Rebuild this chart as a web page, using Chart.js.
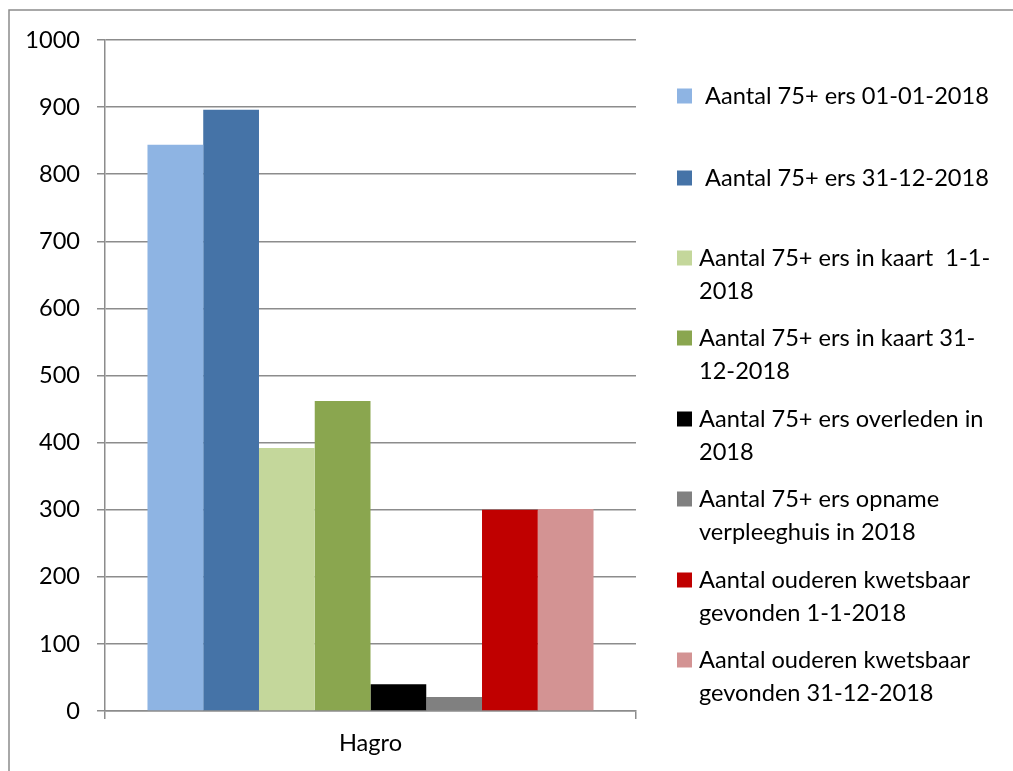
<!DOCTYPE html>
<html>
<head>
<meta charset="utf-8">
<title>Hagro – 75+ ers 2018</title>
<script src="https://cdn.jsdelivr.net/npm/chart.js@4/dist/chart.umd.min.js"></script>
<style>
  html, body { margin: 0; padding: 0; background: #ffffff; }
  #wrap { width: 1013px; height: 771px; }
</style>
</head>
<body>
<div id="wrap"><canvas id="chart" width="1013" height="771"></canvas></div>
<script>
// Category on the x axis
const categories = ['Hagro'];

// Series names (line breaks as shown in the legend)
const seriesLabels = [
  ' Aantal 75+ ers 01-01-2018',
  ' Aantal 75+ ers 31-12-2018',
  'Aantal 75+ ers in kaart  1-1-\n2018',
  'Aantal 75+ ers in kaart 31-\n12-2018',
  'Aantal 75+ ers overleden in\n2018',
  'Aantal 75+ ers opname\nverpleeghuis in 2018',
  'Aantal ouderen kwetsbaar\ngevonden 1-1-2018',
  'Aantal ouderen kwetsbaar\ngevonden 31-12-2018'
];

// One value per series for Hagro
const seriesValues = [844, 896, 392, 462, 40, 21, 300, 301];

// Fill colour of each series
const seriesColors = [
  '#8EB4E3', '#4573A7', '#C4D79B', '#8AA64F',
  '#000000', '#808080', '#C00000', '#D39393'
];

// Value axis ticks
const yTicks = [0, 100, 200, 300, 400, 500, 600, 700, 800, 900, 1000];

const FONT = 'Lato, "Open Sans", sans-serif';
const LINE = '#8c8c8c';

// Frame around the chart (top and left edges fall inside the page)
const framePlugin = {
  id: 'frame',
  beforeDraw(chart) {
    const ctx = chart.ctx;
    ctx.save();
    ctx.fillStyle = '#ffffff';
    ctx.fillRect(0, 0, chart.width, chart.height);
    ctx.strokeStyle = LINE;
    ctx.lineWidth = 1.5;
    ctx.beginPath();
    ctx.moveTo(9, chart.height + 5);
    ctx.lineTo(9, 10);
    ctx.lineTo(chart.width + 5, 10);
    ctx.stroke();
    ctx.restore();
  }
};

// Legend drawn to the right of the plot, one swatch per series
const sideLegend = {
  id: 'sideLegend',
  afterDraw(chart, args, opts) {
    const ctx = chart.ctx;
    ctx.save();
    ctx.font = opts.fontSize + 'px ' + FONT;
    ctx.textBaseline = 'middle';
    ctx.textAlign = 'left';
    chart.data.datasets.forEach((ds, i) => {
      const y = opts.rowY[i];
      ctx.fillStyle = ds.backgroundColor;
      ctx.fillRect(opts.boxX, y - opts.boxSize / 2, opts.boxSize, opts.boxSize);
      ctx.fillStyle = '#000000';
      String(ds.label).split('\n').forEach((line, k) => {
        ctx.fillText(line, opts.textX, y + k * opts.lineHeight);
      });
    });
    ctx.restore();
  }
};

new Chart(document.getElementById('chart'), {
  type: 'bar',
  data: {
    labels: categories,
    datasets: seriesValues.map((v, i) => ({
      label: seriesLabels[i],
      data: [v],
      backgroundColor: seriesColors[i],
      borderWidth: 0
    }))
  },
  options: {
    responsive: false,
    devicePixelRatio: 1,
    animation: false,
    categoryPercentage: 0.84,
    barPercentage: 1.0,
    layout: { padding: { top: 40, right: 377, bottom: 0, left: 0 } },
    plugins: {
      legend: { display: false },
      tooltip: { enabled: false },
      sideLegend: {
        boxX: 677, boxSize: 15, textX: 699, fontSize: 23.6, lineHeight: 33,
        rowY: [96, 178, 258, 338, 419, 499, 580, 660]
      }
    },
    scales: {
      x: {
        afterFit(scale) { scale.height = 60; },
        grid: {
          display: true,
          drawOnChartArea: false,
          drawTicks: true,
          tickLength: 8,
          color: LINE,
          lineWidth: 1.5
        },
        border: { display: true, color: LINE, width: 1.5 },
        ticks: {
          color: '#000000',
          font: { family: FONT, size: 23.6 },
          padding: 10
        }
      },
      y: {
        min: 0,
        max: 1000,
        afterFit(scale) { scale.width = 105; },
        afterBuildTicks(scale) { scale.ticks = yTicks.map(v => ({ value: v })); },
        grid: {
          color: LINE,
          lineWidth: 1.5,
          drawTicks: true,
          tickLength: 8
        },
        border: { display: true, color: LINE, width: 1.5 },
        ticks: {
          color: '#000000',
          font: { family: FONT, size: 23.6 },
          padding: 17,
          callback: (v) => String(v)
        }
      }
    }
  },
  plugins: [framePlugin, sideLegend]
});
</script>
</body>
</html>
